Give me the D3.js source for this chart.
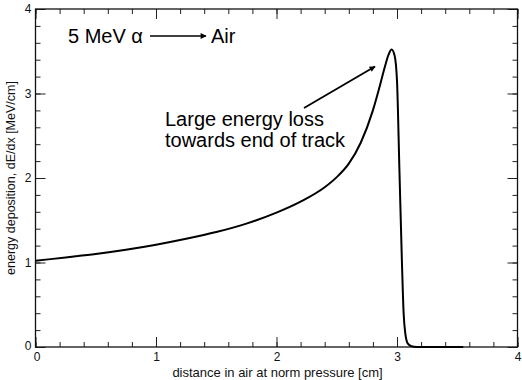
<!DOCTYPE html>
<html>
<head>
<meta charset="utf-8">
<script src="https://cdn.jsdelivr.net/npm/d3@7"></script>
<style>
  html, body { margin: 0; padding: 0; background: #fff; }
  svg { display: block; font-family: "Liberation Sans", Arial, Helvetica, sans-serif; }
</style>
</head>
<body>
<svg id="chart" width="522" height="380"></svg>
<script>
// Data (Bragg curve of a 5 MeV alpha in air)
const distance = [0, 0.25, 0.5, 0.75, 1.0, 1.25, 1.5, 1.75, 2.0, 2.2, 2.4, 2.5, 2.6, 2.7, 2.8, 2.85, 2.9, 2.93, 2.955, 2.98, 3.0, 3.02, 3.04, 3.055, 3.07, 3.09, 3.12, 3.16, 3.3, 3.55];
const dEdx     = [1.02, 1.06, 1.10, 1.15, 1.21, 1.28, 1.36, 1.46, 1.59, 1.72, 1.89, 2.01, 2.17, 2.42, 2.80, 3.05, 3.32, 3.46, 3.52, 3.45, 3.15, 2.1, 1.05, 0.4, 0.15, 0.04, 0.01, 0, 0, 0];
const xTicks = [0, 1, 2, 3, 4];
const yTicks = [0, 1, 2, 3, 4];
const xMinor = d3.range(0, 4.0001, 0.2);
const yMinor = d3.range(0, 4.0001, 0.2);
const titleLeft = "5 MeV α";
const titleRight = "Air";
const noteLines = ["Large energy loss", "towards end of track"];
const xLabel = "distance in air at norm pressure [cm]";
const yLabel = "energy deposition, dE/dx [MeV/cm]";

const svg = d3.select("#chart");
const L = 35.5, R = 517.5, T = 9, B = 347;
const x = d3.scaleLinear().domain([0, 4]).range([L, R]);
const y = d3.scaleLinear().domain([0, 4]).range([B, T]);

function axisG(gen, tx, ty) {
  return svg.append("g").attr("transform", `translate(${tx},${ty})`).call(gen);
}
const fmt = d3.format("d");
// minor ticks
axisG(d3.axisBottom(x).tickValues(xMinor).tickSize(-5).tickFormat(""), 0, B);
axisG(d3.axisTop(x).tickValues(xMinor).tickSize(-5).tickFormat(""), 0, T);
axisG(d3.axisLeft(y).tickValues(yMinor).tickSize(-5).tickFormat(""), L, 0);
axisG(d3.axisRight(y).tickValues(yMinor).tickSize(-5).tickFormat(""), R, 0);
// major ticks
const xb = axisG(d3.axisBottom(x).tickValues(xTicks).tickSize(-10).tickPadding(5).tickFormat(fmt), 0, B);
axisG(d3.axisTop(x).tickValues(xTicks).tickSize(-10).tickFormat(""), 0, T);
const yl = axisG(d3.axisLeft(y).tickValues(yTicks).tickSize(-10).tickPadding(4).tickFormat(fmt), L, 0);
axisG(d3.axisRight(y).tickValues(yTicks).tickSize(-10).tickFormat(""), R, 0);

svg.selectAll(".domain").remove();
svg.selectAll(".tick line").attr("stroke", "#222").attr("stroke-width", 1);
svg.selectAll(".tick text").attr("fill", "#111").style("font-size", "12px").style("font-family", "'Liberation Sans', Arial, sans-serif");
yl.selectAll(".tick").filter(d => d === 0).select("text").attr("dy", "0.2em");
xb.selectAll(".tick").filter(d => d === 0).select("text").attr("dx", "0.1em");

// frame
svg.append("rect").attr("x", L).attr("y", T).attr("width", R - L).attr("height", B - T)
  .attr("fill", "none").attr("stroke", "#111").attr("stroke-width", 1.3);

// curve
const pts = distance.map((d, i) => [d, dEdx[i]]);
svg.append("path").datum(pts)
  .attr("d", d3.line().x(d => x(d[0])).y(d => y(d[1])).curve(d3.curveMonotoneX))
  .attr("fill", "none").attr("stroke", "#000").attr("stroke-width", 2).attr("stroke-linejoin", "round");

// arrow marker
svg.append("defs").append("marker").attr("id", "ah").attr("viewBox", "0 0 10 10")
  .attr("refX", 9).attr("refY", 5).attr("markerWidth", 9).attr("markerHeight", 6)
  .attr("markerUnits", "userSpaceOnUse").attr("orient", "auto")
  .append("path").attr("d", "M0,0 L10,5 L0,10 z").attr("fill", "#000");

// title
svg.append("text").attr("x", 68).attr("y", 43).style("font-size", "20px").attr("fill", "#000").text(titleLeft);
svg.append("line").attr("x1", 150).attr("y1", 36).attr("x2", 206).attr("y2", 36)
  .attr("stroke", "#000").attr("stroke-width", 1.3).attr("marker-end", "url(#ah)");
svg.append("text").attr("x", 211).attr("y", 43).style("font-size", "20px").attr("fill", "#000").text(titleRight);

// annotation
const note = svg.append("text").attr("x", 165).attr("y", 126).style("font-size", "20px").attr("fill", "#000");
noteLines.forEach((t, i) => note.append("tspan").attr("x", 165).attr("dy", i === 0 ? 0 : 21).text(t));
svg.append("line").attr("x1", 304).attr("y1", 108).attr("x2", 375).attr("y2", 66.5)
  .attr("stroke", "#000").attr("stroke-width", 1.8).attr("marker-end", "url(#ah)");

// axis labels
svg.append("text").attr("x", (L + R) / 2 + 1).attr("y", 376.5).attr("text-anchor", "middle")
  .style("font-size", "13px").attr("fill", "#111").text(xLabel);
svg.append("text").attr("transform", `translate(15,${(T + B) / 2}) rotate(-90)`).attr("text-anchor", "middle")
  .style("font-size", "12.5px").attr("fill", "#111").text(yLabel);
</script>
</body>
</html>
